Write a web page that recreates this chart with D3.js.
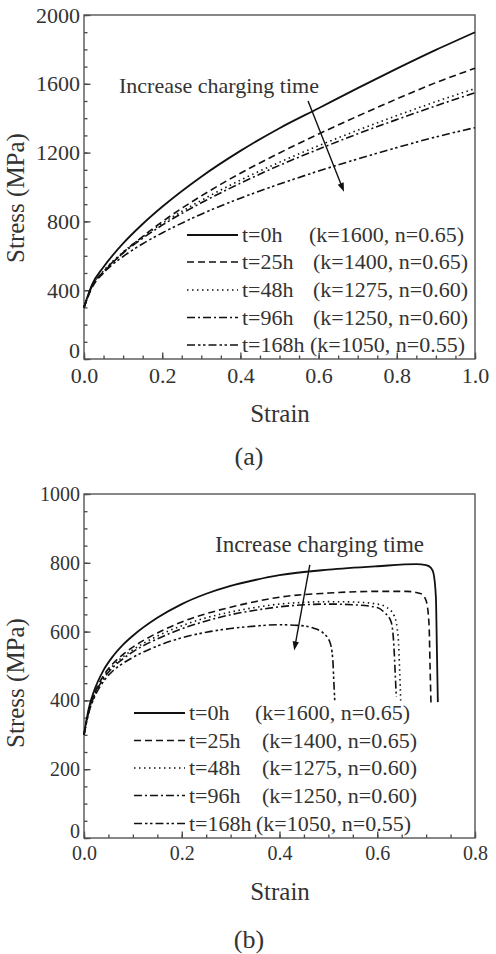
<!DOCTYPE html>
<html>
<head>
<meta charset="utf-8">
<script src="https://cdn.jsdelivr.net/npm/d3@7"></script>
<style>
body { margin: 0; background: #fff; }
text { font-family: "Liberation Serif", "Times New Roman", serif; fill: #333; }
</style>
</head>
<body>
<script>
// legend entries (same for both panels)
var seriesNames = ["t=0h", "t=25h", "t=48h", "t=96h", "t=168h"];
var seriesParams = ["(k=1600, n=0.65)", "(k=1400, n=0.65)", "(k=1275, n=0.60)", "(k=1250, n=0.60)", "(k=1050, n=0.55)"];

// panel (a): stress-strain curves
var strainA = [0, 0.02, 0.05, 0.1, 0.15, 0.2, 0.3, 0.4, 0.5, 0.6, 0.7, 0.8, 0.9, 1.0];
var stressA_0h   = [300, 430, 535, 672, 785, 885, 1060, 1210, 1342, 1458, 1575, 1688, 1797, 1900];
var stressA_25h  = [300, 412, 502, 618, 712, 798, 948, 1080, 1198, 1308, 1412, 1512, 1607, 1690];
var stressA_48h  = [300, 422, 512, 622, 710, 788, 922, 1040, 1144, 1240, 1330, 1415, 1496, 1572];
var stressA_96h  = [300, 420, 508, 616, 702, 778, 908, 1022, 1126, 1220, 1309, 1392, 1472, 1548];
var stressA_168h = [300, 422, 502, 596, 670, 733, 842, 935, 1017, 1093, 1163, 1229, 1291, 1345];

// panel (b)
var strainB_0h   = [0, 0.005, 0.01, 0.02, 0.04, 0.06, 0.08, 0.1, 0.15, 0.2, 0.25, 0.3, 0.35, 0.4, 0.5, 0.6, 0.68, 0.7, 0.71, 0.715, 0.72, 0.722, 0.724];
var stressB_0h   = [300, 342, 378, 425, 488, 530, 562, 588, 640, 680, 710, 733, 750, 764, 780, 790, 796, 793, 785, 770, 700, 550, 395];
var strainB_25h  = [0, 0.005, 0.01, 0.02, 0.04, 0.06, 0.08, 0.1, 0.15, 0.2, 0.25, 0.3, 0.35, 0.4, 0.5, 0.6, 0.66, 0.69, 0.7, 0.706, 0.708, 0.71];
var stressB_25h  = [300, 340, 372, 415, 472, 508, 534, 555, 596, 628, 652, 671, 687, 700, 712, 717, 717, 710, 690, 620, 500, 390];
var strainB_48h  = [0, 0.005, 0.01, 0.02, 0.04, 0.06, 0.08, 0.1, 0.15, 0.2, 0.25, 0.3, 0.35, 0.4, 0.45, 0.5, 0.55, 0.6, 0.62, 0.635, 0.643, 0.646, 0.648];
var stressB_48h  = [300, 338, 370, 412, 467, 502, 527, 547, 587, 617, 640, 657, 670, 680, 685, 687, 686, 680, 670, 645, 580, 480, 400];
var strainB_96h  = [0, 0.005, 0.01, 0.02, 0.04, 0.06, 0.08, 0.1, 0.15, 0.2, 0.25, 0.3, 0.35, 0.4, 0.45, 0.5, 0.55, 0.6, 0.615, 0.628, 0.634, 0.637, 0.639];
var stressB_96h  = [300, 336, 368, 410, 463, 497, 521, 541, 579, 608, 631, 649, 662, 672, 678, 680, 678, 670, 655, 630, 560, 470, 410];
var strainB_168h = [0, 0.005, 0.01, 0.02, 0.04, 0.06, 0.08, 0.1, 0.15, 0.2, 0.25, 0.3, 0.35, 0.4, 0.44, 0.47, 0.49, 0.503, 0.509, 0.511, 0.513];
var stressB_168h = [300, 335, 365, 405, 455, 487, 508, 525, 558, 582, 598, 609, 616, 620, 618, 610, 595, 570, 520, 460, 400];

// arrows "Increase charging time" in data units [strain, stress]
var arrowA = [[0.573, 1500], [0.665, 972]];
var arrowB = [[0.462, 794], [0.430, 545]];

var dashes = [null, "7,4", "1.5,3.5", "8,3,2,3", "8,3,2.5,2.5,2.5,3"];

var svg = d3.select("body").append("svg")
	.attr("width", 496)
	.attr("height", 954);

function drawPanel(p) {
	var g = svg.append("g");

	var x = d3.scaleLinear().domain(p.xDomain).range([84, 475]);
	var y = d3.scaleLinear().domain(p.yDomain).range([p.bottom, p.top]);

	// minor ticks
	g.append("g")
		.attr("transform", "translate(0," + p.bottom + ")")
		.call(d3.axisBottom(x).tickValues(d3.range(0, p.xDomain[1] + 1e-9, 0.05)).tickSize(-3.5).tickFormat(""));
	g.append("g")
		.attr("transform", "translate(84,0)")
		.call(d3.axisLeft(y).tickValues(d3.range(0, p.yDomain[1] + 1, p.yMinor)).tickSize(-3.5).tickFormat(""));

	// major ticks + labels
	var xa = g.append("g")
		.attr("transform", "translate(0," + p.bottom + ")")
		.call(d3.axisBottom(x).tickValues(d3.range(0, p.xDomain[1] + 1e-9, 0.2)).tickSize(-6.5).tickFormat(d3.format(".1f")));
	xa.selectAll("text").attr("y", p.xLabelOff).attr("dy", null).style("font-size", p.tickFont + "px");

	var ya = g.append("g")
		.attr("transform", "translate(84,0)")
		.call(d3.axisLeft(y).tickValues(d3.range(0, p.yDomain[1] + 1, p.yMajor)).tickSize(-6.5).tickPadding(4).tickFormat(d3.format("d")));
	ya.selectAll("text").style("font-size", p.tickFont + "px");
	// the "0" sits just above the "0.0" of the x axis
	ya.selectAll("text").filter(function(d) { return d == 0; }).attr("dy", "-0.05em");

	g.selectAll(".domain").remove();
	g.selectAll(".tick line").attr("stroke", "#444").attr("stroke-width", 1.3);
	g.selectAll(".tick text").attr("fill", "#333").style("font-family", "Liberation Serif, serif");

	// frame
	g.append("rect")
		.attr("x", 84).attr("y", p.top)
		.attr("width", 391).attr("height", p.bottom - p.top)
		.attr("fill", "none").attr("stroke", "#555").attr("stroke-width", 1.4);

	// curves
	var line = d3.line()
		.x(function(d) { return x(d[0]); })
		.y(function(d) { return y(d[1]); })
		.curve(d3.curveMonotoneX);

	p.series.forEach(function(s, i) {
		var pts = s.strain.map(function(e, j) { return [e, s.stress[j]]; });
		g.append("path")
			.attr("d", line(pts))
			.attr("fill", "none")
			.attr("stroke", "#111")
			.attr("stroke-width", i == 0 ? 1.8 : 1.6)
			.attr("stroke-dasharray", dashes[i]);
	});

	// legend
	seriesNames.forEach(function(name, i) {
		var ly = p.legendY[i];
		g.append("line")
			.attr("x1", p.legendX).attr("x2", p.legendX + 51)
			.attr("y1", ly).attr("y2", ly)
			.attr("stroke", "#111")
			.attr("stroke-width", i == 0 ? 1.8 : 1.6)
			.attr("stroke-dasharray", dashes[i]);
		g.append("text")
			.attr("x", p.legendX + 55).attr("y", ly + 7)
			.style("font-size", "22px")
			.text(name);
		g.append("text")
			.attr("x", p.paramX[i]).attr("y", ly + 7)
			.style("font-size", "22px")
			.text(seriesParams[i]);
	});

	// annotation arrow
	var a0 = [x(p.arrow[0][0]), y(p.arrow[0][1])];
	var a1 = [x(p.arrow[1][0]), y(p.arrow[1][1])];
	var ang = Math.atan2(a1[1] - a0[1], a1[0] - a0[0]);
	g.append("line")
		.attr("x1", a0[0]).attr("y1", a0[1])
		.attr("x2", a1[0] - 6 * Math.cos(ang)).attr("y2", a1[1] - 6 * Math.sin(ang))
		.attr("stroke", "#111").attr("stroke-width", 1.4);
	var hl = 9, hw = 3.2;
	var bx = a1[0] - hl * Math.cos(ang), by = a1[1] - hl * Math.sin(ang);
	g.append("path")
		.attr("d", "M" + a1[0] + "," + a1[1] +
			"L" + (bx - hw * Math.sin(ang)) + "," + (by + hw * Math.cos(ang)) +
			"L" + (bx + hw * Math.sin(ang)) + "," + (by - hw * Math.cos(ang)) + "Z")
		.attr("fill", "#111");

	g.append("text")
		.attr("x", p.noteX).attr("y", p.noteY)
		.style("font-size", p.noteFont + "px")
		.text("Increase charging time");

	// axis titles
	g.append("text")
		.attr("transform", "translate(24," + p.yTitleY + ") rotate(-90)")
		.attr("text-anchor", "middle")
		.style("font-size", "25px")
		.text("Stress (MPa)");
	g.append("text")
		.attr("x", 280).attr("y", p.xTitleY)
		.attr("text-anchor", "middle")
		.style("font-size", "25px")
		.text("Strain");
	g.append("text")
		.attr("x", 249).attr("y", p.capY)
		.attr("text-anchor", "middle")
		.style("font-size", "26px")
		.text(p.caption);
}

drawPanel({
	top: 15, bottom: 359,
	xDomain: [0, 1.0], yDomain: [0, 2000], yMajor: 400, yMinor: 100,
	tickFont: 22, xLabelOff: 24,
	series: [
		{strain: strainA, stress: stressA_0h},
		{strain: strainA, stress: stressA_25h},
		{strain: strainA, stress: stressA_48h},
		{strain: strainA, stress: stressA_96h},
		{strain: strainA, stress: stressA_168h}
	],
	legendX: 187, legendY: [235, 262, 290, 317.5, 345],
	paramX: [309, 313, 313, 313, 310],
	arrow: arrowA, noteX: 119, noteY: 93, noteFont: 22,
	yTitleY: 198, xTitleY: 422, capY: 465, caption: "(a)"
});

drawPanel({
	top: 494, bottom: 838,
	xDomain: [0, 0.8], yDomain: [0, 1000], yMajor: 200, yMinor: 50,
	tickFont: 20, xLabelOff: 22,
	series: [
		{strain: strainB_0h, stress: stressB_0h},
		{strain: strainB_25h, stress: stressB_25h},
		{strain: strainB_48h, stress: stressB_48h},
		{strain: strainB_96h, stress: stressB_96h},
		{strain: strainB_168h, stress: stressB_168h}
	],
	legendX: 134, legendY: [713, 740.5, 768, 795.5, 823.5],
	paramX: [255, 262, 262, 262, 256],
	arrow: arrowB, noteX: 215, noteY: 552, noteFont: 23,
	yTitleY: 683, xTitleY: 900, capY: 948, caption: "(b)"
});
</script>
</body>
</html>
